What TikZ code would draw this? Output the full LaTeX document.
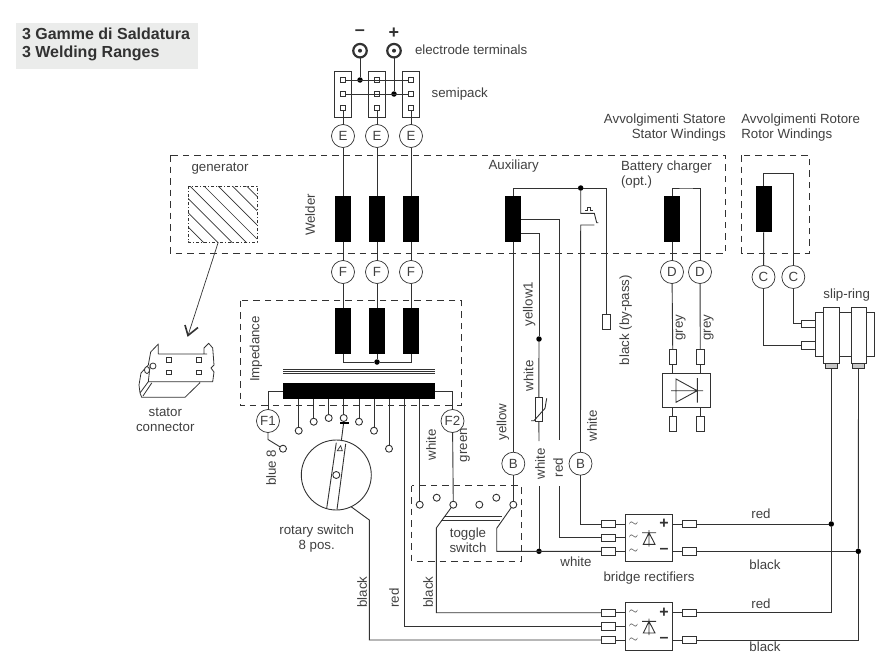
\documentclass[tikz,border=0pt]{standalone}
\usepackage{fontspec}
\setmainfont{Liberation Sans}
\usetikzlibrary{arrows,shapes}

\begin{document}
\begin{tikzpicture}[x=1pt,y=-1pt,node distance = 30pt]
    \definecolor{mywire}{RGB}{50,50,50}
    \definecolor{mytext}{RGB}{64,64,64}
    \definecolor{mypanel}{RGB}{235,236,235}
    \definecolor{mylug}{RGB}{200,200,200}

    \fontsize{13.3}{14.5}\selectfont  % text size
    \tikzstyle{every node}=[inner sep=0pt,outer sep=0pt,text=mytext]
    \tikzstyle{wire}=[draw=mywire,line width=0.9pt]  % connecting lines
    \tikzstyle{dashbox}=[draw=mywire,line width=0.9pt,dash pattern=on 6.5pt off 5pt]  % dashed groups
    \tikzstyle{joint}=[circle,fill=black,minimum size=5.5pt]  % wire joints
    \tikzstyle{letter}=[circle,draw=mywire,line width=0.7pt,fill=white,minimum size=23pt]  % lettered plugs
    \tikzstyle{coil}=[rectangle,fill=black,minimum width=16pt,minimum height=46pt]
    \tikzstyle{contact}=[circle,draw=mywire,line width=0.9pt,fill=white,minimum size=7pt]
    \tikzstyle{fuse}=[rectangle,draw=mywire,line width=0.9pt,fill=white,minimum width=14pt,minimum height=7.5pt]
    \tikzstyle{upfuse}=[rectangle,draw=mywire,line width=0.9pt,fill=white,minimum width=7.5pt,minimum height=15pt]
    \tikzstyle{pin}=[rectangle,draw=mywire,line width=0.9pt,fill=white,minimum size=5pt]
    \tikzstyle{pack}=[rectangle,draw=mywire,line width=0.9pt,minimum width=17pt,minimum height=45.5pt]
    \tikzstyle{bridge}=[rectangle,draw=mywire,line width=0.9pt,minimum width=47.7pt,minimum height=47.3pt]
    \tikzstyle{post}=[circle,draw=mywire,line width=2.2pt,fill=white,minimum size=13.5pt]
    \tikzstyle{sign}=[font=\fontsize{16}{16}\bfseries\selectfont,text=mywire]
    \tikzstyle{wave}=[font=\fontsize{12}{12}\selectfont,text=mywire]

    \useasboundingbox (0,0) rectangle (887,653);

    % title
    \node[fill=mypanel,minimum width=182pt,minimum height=46pt](panel) at (107,46){};
    \node[anchor=west,align=left,font=\fontsize{16}{18}\bfseries\selectfont,text=mywire](title) at (22,44.3)
      {3 Gamme di Saldatura\\3 Welding Ranges};

    % dashed groups
    \draw[dashbox] (170,155) rectangle (725.5,253);
    \draw[dashbox] (741.7,155) rectangle (809,253);
    \draw[dashbox] (240,300.5) rectangle (461,405.7);
    \draw[dashbox] (411.7,485.7) rectangle (521.3,561.3);

    % electrode terminals and semipack
    \node[post](minus) at (360,50.7){};
    \node[post](plus) at (394,50.7){};
    \node[circle,fill=mywire,minimum size=4pt](minusc) at (minus){};
    \node[circle,fill=mywire,minimum size=4pt](plusc) at (plus){};
    \node[sign,font=\fontsize{18}{18}\bfseries\selectfont](minuss) at (360,33){–};
    \node[sign,font=\fontsize{18}{18}\bfseries\selectfont](pluss) at (394,33){+};
    \node[anchor=west](termlab) at (415,50){electrode terminals};
    \node[anchor=west](packlab) at (431.7,94){semipack};
    \node[pack](pack1) at (343,94.5){};
    \node[pack,right of=pack1,node distance=34pt](pack2){};
    \node[pack,right of=pack2,node distance=34pt](pack3){};
    \node[pin](p1a) at (343,80){};
    \node[pin,below of=p1a,node distance=14pt](p1b){};
    \node[pin,below of=p1b,node distance=14.3pt](p1c){};
    \node[pin](p2a) at (377,80){};
    \node[pin,below of=p2a,node distance=14pt](p2b){};
    \node[pin,below of=p2b,node distance=14.3pt](p2c){};
    \node[pin](p3a) at (411,80){};
    \node[pin,below of=p3a,node distance=14pt](p3b){};
    \node[pin,below of=p3b,node distance=14.3pt](p3c){};
    \node[joint](jminus) at (360,80){};
    \node[joint](jplus) at (394,94){};

    % welder, plugs and impedance columns
    \node[letter](e1) at (343,136){E};
    \node[letter](e2) at (377,136){E};
    \node[letter](e3) at (411,136){E};
    \node[coil,below of=e1,node distance=83pt](w1){};
    \node[coil,below of=e2,node distance=83pt](w2){};
    \node[coil,below of=e3,node distance=83pt](w3){};
    \node[letter,below of=w1,node distance=53pt](f1){F};
    \node[letter,below of=w2,node distance=53pt](f2){F};
    \node[letter,below of=w3,node distance=53pt](f3){F};
    \node[coil,below of=f1,node distance=59pt](i1){};
    \node[coil,below of=f2,node distance=59pt](i2){};
    \node[coil,below of=f3,node distance=59pt](i3){};
    \node[joint](jimp) at (377,362){};
    \node[rectangle,fill=black,minimum width=152pt,minimum height=16pt](bar) at (359,391){};

    \node(genlab) at (220,169){generator};
    \node[rotate=90](weldlab) at (310,215){Welder};
    \node[rotate=90](implab) at (256,349){Impedance};

    % generator hatch
    \begin{scope}
      \clip (188,186) rectangle (257,242);
      \draw[line width=0.7pt,draw=mywire] (188,127.4)--(257,196.4) (188,141.6)--(257,210.6)
        (188,155.8)--(257,224.8) (188,170)--(257,239) (188,184.2)--(257,253.2)
        (188,198.4)--(257,267.4) (188,212.6)--(257,281.6) (188,226.8)--(257,295.8)
        (188,241)--(257,310);
    \end{scope}
    \draw[line width=0.8pt,draw=mywire,dash pattern=on 3pt off 2pt on 1pt off 2pt] (188,186) rectangle (257,242);
    \coordinate (gentip) at (188,335.5);
    \coordinate (genfoot) at (218,243);
    \draw[wire,line width=0.7pt] (genfoot) -- (gentip);
    \draw[line width=1.6pt,draw=mywire] (198,327.5) -- (gentip) -- (185,325);

    % stator connector
    \draw[line width=0.8pt,draw=mywire,line join=round]
      (158.3,354) -- (207,354) (158.3,354) -- (158.3,344) -- (150.7,352) -- (148.3,365) -- (141,373)
      (204,354) -- (204,348) (204,348) -- (208.7,343.3) -- (212.7,348) -- (214,365) -- (211,368) -- (214,372) -- (212.7,381.7) -- (148.3,381.7)
      (150.3,364) -- (148.3,381.7) (148.3,381.7) -- (140,393) -- (141.7,397.3) -- (185,397.3) -- (200,382.7)
      (151.7,383) -- (143,396) (141,373) -- (139,385) -- (140,393);
    \draw[line width=0.8pt,draw=mywire,fill=white] (147,370) ellipse (2.5pt and 3.5pt);
    \draw[line width=0.8pt,draw=mywire,fill=white] (153,366) circle (3pt);
    \node[pin,minimum size=4.5pt](sc1) at (169,360){};
    \node[pin,minimum size=4.5pt](sc2) at (199,360){};
    \node[pin,minimum size=4.5pt](sc3) at (169,372.3){};
    \node[pin,minimum size=4.5pt](sc4) at (199,372.3){};
    \node[align=center,font=\fontsize{13.3}{15}\selectfont](sclab) at (165.3,419.3){stator\\connector};

    % impedance taps
    \node[letter](plugf1) at (268,421){F1};
    \node[letter](plugf2) at (452.5,421){F2};
    \node[contact](tap0) at (283,448.7){};
    \node[contact](tap1) at (298.7,430.7){};
    \node[contact](tap2) at (313.7,421.7){};
    \node[contact](tap3) at (328.7,418){};
    \node[contact](tap4) at (343.7,418){};
    \node[contact](tap5) at (359,421.7){};
    \node[contact](tap6) at (374,430.7){};
    \node[contact](tap7) at (389,448.7){};
    \node[rotate=90](bluelab) at (271,467.7){blue 8};
    \node[rotate=90](whlab) at (431,445){white};
    \node[rotate=90](grlab) at (465,445){green};

    % rotary switch
    \node[circle,draw=mywire,line width=0.9pt,minimum size=70pt](rotary) at (336.3,475){};
    \coordinate (r1) at (326.7,508.3);
    \coordinate (r2) at (336.3,442.6);
    \coordinate (r3) at (337,509.5);
    \coordinate (r4) at (345.7,443.8);
    \draw[wire] (r1)--(r2) (r3)--(r4);
    \draw[wire,line width=0.7pt] (340.7,445.7)--(337.3,450.7)--(342.3,450.7)--cycle;
    \node[contact](rotpivot) at (rotary){};
    \coordinate (rottop) at (341.3,441);
    \coordinate (rotpin) at (343.5,424);
    \draw[wire] (rottop)--(rotpin);
    \draw[line width=2pt,draw=black] (340,423)--(349,423);
    \node[align=center,font=\fontsize{13.3}{15}\selectfont](rotlab) at (316.7,538.2){rotary switch\\8 pos.};

    % auxiliary
    \node(auxlab) at (513.7,166){Auxiliary};
    \node[coil](aux) at (513.3,219){};
    \node[joint](jaux) at (580.7,188){};
    \node[letter](b1) at (513.3,463.7){B};
    \node[letter](b2) at (580.5,463.7){B};
    \node[upfuse,minimum height=14.5pt](bypass) at (606.5,322){};
    \node[joint](jyel) at (539,339){};
    \node[upfuse,minimum height=24.7pt](vari) at (538.8,409.3){};
    \node[rotate=90](yel1lab) at (529.3,304){yellow1};
    \node[rotate=90](wh1lab) at (528.7,376){white};
    \node[rotate=90](yellab) at (503,422){yellow};
    \node[rotate=90](wh2lab) at (592,426){white};
    \node[rotate=90](wh3lab) at (540,464){white};
    \node[rotate=90](redlab) at (558,467.7){red};
    \node[rotate=90](bylab) at (625.7,320){black (by-pass)};

    % battery charger
    \node[anchor=west,align=left,font=\fontsize{13.3}{15}\selectfont](batlab) at (621,174.3){Battery charger\\(opt.)};
    \node[coil](bat) at (672,219){};
    \node[letter](d1) at (672,272){D};
    \node[letter](d2) at (700,272){D};
    \node[upfuse](c1) at (672.8,356.5){};
    \node[upfuse](c2) at (700.3,356.5){};
    \node[rectangle,draw=mywire,line width=0.9pt,minimum width=48.4pt,minimum height=34pt](chg) at (686.5,390.3){};
    \node[upfuse](c3) at (672.8,424.2){};
    \node[upfuse](c4) at (700.3,424.2){};
    \node[rotate=90](gr1lab) at (680.7,327.7){grey};
    \node[rotate=90](gr2lab) at (708.7,327.7){grey};
    \draw[wire] (676,379)--(676,402.3)--(697.3,390.7)--cycle (671,390.7)--(703,390.7) (697.3,378)--(697.3,402.5);

    % rotor and slip-ring
    \node[align=right,anchor=east](statlab) at (725.7,127.5){Avvolgimenti Statore\\Stator Windings};
    \node[align=left,anchor=west](rotlab2) at (741.3,127.5){Avvolgimenti Rotore\\Rotor Windings};
    \node[coil](rot) at (763.8,209){};
    \node[letter](c5) at (763.5,277){C};
    \node[letter](c6) at (793.3,277){C};
    \node(sliplab) at (846.7,295){slip-ring};
    \node[rectangle,draw=mywire,line width=0.9pt,minimum width=59.4pt,minimum height=44.4pt](slip) at (845,334.5){};
    \node[rectangle,draw=mywire,line width=0.9pt,fill=white,minimum width=15.3pt,minimum height=56.7pt](ring1) at (831.3,335.3){};
    \node[rectangle,draw=mywire,line width=0.9pt,fill=white,minimum width=15.3pt,minimum height=56.7pt](ring2) at (858.6,335.3){};
    \node[rectangle,draw=mywire,line width=0.9pt,fill=mylug,minimum width=11.3pt,minimum height=5pt](lug1) at (831.3,366.2){};
    \node[rectangle,draw=mywire,line width=0.9pt,fill=mylug,minimum width=11.3pt,minimum height=5pt](lug2) at (858.5,366.2){};
    \node[fuse,minimum width=13.7pt](in3) at (808.2,323.8){};
    \node[fuse,minimum width=13.7pt](in4) at (808.2,345.2){};

    % toggle switch
    \node[contact](sw1) at (419.7,504.7){};
    \node[contact](sw2) at (436.7,497.7){};
    \node[contact](sw3) at (453.3,504.7){};
    \node[contact](sw4) at (479.3,504.7){};
    \node[contact](sw5) at (496.3,497.7){};
    \node[contact](sw6) at (513.3,504.7){};
    \coordinate (togl) at (436.3,528);
    \coordinate (togr) at (496.7,528.3);
    \draw[wire] (443.5,516)--(502,516) (441,520)--(500,520);
    \node[align=center,font=\fontsize{13.3}{14.7}\selectfont](toglab) at (468,540){toggle\\switch};

    % bridge rectifiers
    \node[bridge](rect1) at (648.9,537.7){};
    \node[fuse](a1) at (608.3,524){};
    \node[fuse,below of=a1,node distance=13.7pt](a2){};
    \node[fuse,below of=a2,node distance=13.6pt](a3){};
    \node[fuse](o1) at (689.3,524){};
    \node[fuse](o2) at (689.3,551.3){};
    \node[wave](t1) at (633.5,524){$\sim$};
    \node[wave](t2) at (633.5,537.7){$\sim$};
    \node[wave](t3) at (633.5,551.3){$\sim$};
    \node[sign](s1) at (664,524){+};
    \node[sign](s2) at (664,551){–};
    \draw[wire] (649,532.7)--(643.3,544.3)--(655,544.3)--cycle (642,532.7)--(656,532.7) (649,530)--(649,546.5);
    \node[bridge](rect2) at (648.9,626.4){};
    \node[fuse](a4) at (608.3,612.7){};
    \node[fuse,below of=a4,node distance=13.6pt](a5){};
    \node[fuse,below of=a5,node distance=13.7pt](a6){};
    \node[fuse](o3) at (689.3,612.7){};
    \node[fuse](o4) at (689.3,640){};
    \node[wave](t4) at (633.5,612.7){$\sim$};
    \node[wave](t5) at (633.5,626.3){$\sim$};
    \node[wave](t6) at (633.5,640){$\sim$};
    \node[sign](s3) at (664,612.7){+};
    \node[sign](s4) at (664,640){–};
    \draw[wire] (649,621.4)--(643.3,633)--(655,633)--cycle (642,621.4)--(656,621.4) (649,618.7)--(649,635.2);
    \node[joint](jwhite) at (539,551.3){};
    \node[joint](jred) at (831.3,524){};
    \node[joint](jblack) at (858.3,551.3){};
    \node(brlab) at (649,578.3){bridge rectifiers};
    \node(wh4lab) at (576,561.7){white};
    \node(red1lab) at (761,514){red};
    \node(bl1lab) at (765,565){black};
    \node(red2lab) at (761,603.5){red};
    \node(bl2lab) at (765,647){black};
    \node[rotate=90](bl3lab) at (362,592){black};
    \node[rotate=90](red3lab) at (394,598){red};
    \node[rotate=90](bl4lab) at (428,592){black};

    % free wire ends
    \coordinate (whiteend) at (539,441);
    \coordinate (whitestart) at (539,486);
    \coordinate (redend) at (559.7,440);
    \coordinate (redstart) at (559.7,486);

    % draw lines
    \draw[wire] (minus) -- (jminus);
    \draw[wire] (plus) -- (jplus);
    \draw[wire] (p1a) -- (p3a);
    \draw[wire] (p1b) -- (p3b);
    \draw[wire] (p1c) -- (e1);
    \draw[wire] (p2c) -- (e2);
    \draw[wire] (p3c) -- (e3);
    \draw[wire] (e1) -- (w1);
    \draw[wire] (e2) -- (w2);
    \draw[wire] (e3) -- (w3);
    \draw[wire] (w1) -- (f1);
    \draw[wire] (w2) -- (f2);
    \draw[wire] (w3) -- (f3);
    \draw[wire] (f1) -- (i1);
    \draw[wire] (f2) -- (i2);
    \draw[wire] (f3) -- (i3);
    \draw[wire] (i1.south) |- (jimp) -| (i3.south);
    \draw[wire] (i2.south) -- (jimp);
    \draw[wire,line width=0.8pt] (283,369.7)--(435,369.7) (283,371.5)--(435,371.5) (283,373.3)--(435,373.3);
    \draw[wire] (bar.west) -| (plugf1);
    \draw[wire] (bar.east) -| (plugf2);
    \draw[wire] (plugf1.south) -- ++(0,7) -- (tap0);
    \draw[wire] (tap1 |- bar.south) -- (tap1);
    \draw[wire] (tap2 |- bar.south) -- (tap2);
    \draw[wire] (tap3 |- bar.south) -- (tap3);
    \draw[wire] (tap4 |- bar.south) -- (tap4);
    \draw[wire] (tap5 |- bar.south) -- (tap5);
    \draw[wire] (tap6 |- bar.south) -- (tap6);
    \draw[wire] (tap7 |- bar.south) -- (tap7);
    \draw[wire] (sw1 |- bar.south) -- (sw1);
    \draw[wire] (plugf2) -- (sw3);
    \draw[wire] ([xshift=45.3pt]bar.south) |- (a5);
    \draw[wire] (rotary.-65) -- (369.3,520) |- (a6);
    \draw[wire] (sw3) -- (togl) |- (a4);
    \draw[wire] (sw6) -- (togr) |- (a3);
    \draw[wire] (aux) -- (b1);
    \draw[wire] (b1) -- (sw6);
    \draw[wire] (aux.north) |- (jaux);
    \draw[wire] (jaux) -| (bypass.north);
    \draw[wire] (jaux) -- (580.7,213.3) -- (594.3,213.3) -- (596.7,222.7) -- (598.3,222.7)
      (594.3,225) -- (580.7,225) -- (b2);
    \draw[wire,line width=0.7pt] (585,210)--(587.5,210)--(587.5,207)--(590.5,207)--(590.5,210)--(593,210);
    \draw[wire] (b2) |- (a1);
    \draw[wire] (aux.east) -| (redend);
    \draw[wire] ([yshift=-14.7pt]aux.east) -| (jyel);
    \draw[wire] (jyel) -- (vari);
    \draw[wire] (vari) -- (whiteend);
    \draw[wire] (531,420.7)--(534,420.7)--(545,408.3)--(546.7,398.3);
    \draw[wire] (whitestart) -- (jwhite);
    \draw[wire] (redstart) |- (a2);
    \draw[wire] (bat) -- (d1);
    \draw[wire] (bat.north) |- ++(14,-8) -| (d2);
    \draw[wire] (d1) -- (c1);
    \draw[wire] (d2) -- (c2);
    \draw[wire] (c1) -- (c1 |- chg.north);
    \draw[wire] (c2) -- (c2 |- chg.north);
    \draw[wire] (c3 |- chg.south) -- (c3);
    \draw[wire] (c4 |- chg.south) -- (c4);
    \draw[wire] (rot) -- (c5);
    \draw[wire] (rot.north) |- ++(15,-12.7) -| (c6);
    \draw[wire] (c5) |- (in4);
    \draw[wire] (c6) |- (in3);
    \draw[wire] (lug1) -- (jred);
    \draw[wire] (lug2) -- (jblack);
    \draw[wire] (a1 -| rect1.west) -- (a1);
    \draw[wire] (a2 -| rect1.west) -- (a2);
    \draw[wire] (a3 -| rect1.west) -- (a3);
    \draw[wire] (o1 -| rect1.east) -- (o1);
    \draw[wire] (o2 -| rect1.east) -- (o2);
    \draw[wire] (o1) -- (jred);
    \draw[wire] (o2) -- (jblack);
    \draw[wire] (a4 -| rect2.west) -- (a4);
    \draw[wire] (a5 -| rect2.west) -- (a5);
    \draw[wire] (a6 -| rect2.west) -- (a6);
    \draw[wire] (o3 -| rect2.east) -- (o3);
    \draw[wire] (o4 -| rect2.east) -- (o4);
    \draw[wire] (o3) -| (jred);
    \draw[wire] (o4) -| (jblack);
\end{tikzpicture}
\end{document}
